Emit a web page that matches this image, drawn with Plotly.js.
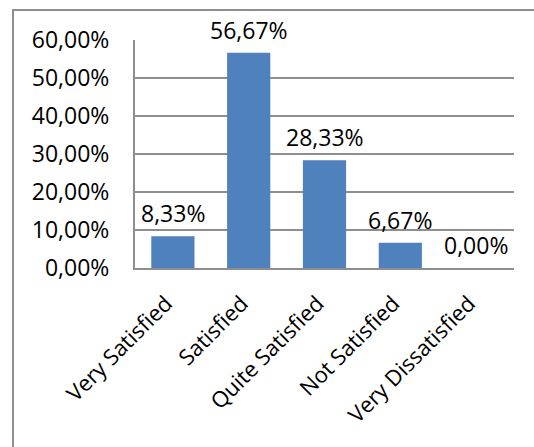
<!DOCTYPE html>
<html>
<head>
<meta charset="utf-8">
<script src="https://cdn.plot.ly/plotly-3.0.1.min.js"></script>
<style>
  html, body { margin: 0; padding: 0; background: #fff; }
  #wrap { position: relative; width: 534px; height: 447px; overflow: hidden; }
  #chart { position: absolute; left: 0; top: 0; width: 534px; height: 447px; }
  #frame { position: absolute; left: 12px; top: 9px; width: 600px; height: 600px;
           border: 2px solid #8e8e8e; pointer-events: none; box-sizing: border-box; }
</style>
</head>
<body>
<div id="wrap">
  <div id="chart"></div>
  <div id="frame"></div>
</div>
<script>
const categories = ["Very Satisfied", "Satisfied", "Quite Satisfied", "Not Satisfied", "Very Dissatisfied"];
const values = [0.0833, 0.5667, 0.2833, 0.0667, 0.0];
const yTicks = [0, 0.1, 0.2, 0.3, 0.4, 0.5, 0.6];

const FONT = "Open Sans, Noto Sans, sans-serif";

function pct(v) { return (v * 100).toFixed(2).replace(".", ",") + "%"; }

const trace = {
  type: "bar",
  x: categories,
  y: values,
  marker: { color: "#4F81BD", line: { width: 0 } },
  hoverinfo: "skip"
};

const annotations = categories.map((c, i) => ({
  x: c,
  y: values[i],
  xref: "x",
  yref: "y",
  text: pct(values[i]),
  showarrow: false,
  xanchor: "center",
  yanchor: "bottom",
  yshift: 5,
  font: { family: FONT, size: 23, color: "#000" }
}));

const layout = {
  width: 534,
  height: 447,
  margin: { l: 135, r: 20, t: 40, b: 179 },
  separators: ",.",
  paper_bgcolor: "#fff",
  plot_bgcolor: "#fff",
  bargap: 0.43,
  showlegend: false,
  font: { family: FONT, size: 23, color: "#000" },
  annotations: annotations,
  xaxis: {
    tickangle: -45,
    showgrid: false,
    showline: true,
    linecolor: "#8e8e8e",
    linewidth: 2,
    ticks: "",
    ticklabelstandoff: 12,
    ticklabelshift: -7,
    tickfont: { family: FONT, size: 22, color: "#000" },
    fixedrange: true
  },
  yaxis: {
    range: [0, 0.6],
    tickvals: yTicks,
    tickformat: ".2%",
    showgrid: true,
    gridcolor: "#8e8e8e",
    gridwidth: 2,
    showline: true,
    linecolor: "#8e8e8e",
    linewidth: 2,
    zeroline: false,
    ticks: "",
    ticklabelstandoff: 19,
    tickfont: { family: FONT, size: 23, color: "#000" },
    fixedrange: true
  }
};

Plotly.newPlot("chart", [trace], layout, { staticPlot: true, displayModeBar: false });
</script>
</body>
</html>
